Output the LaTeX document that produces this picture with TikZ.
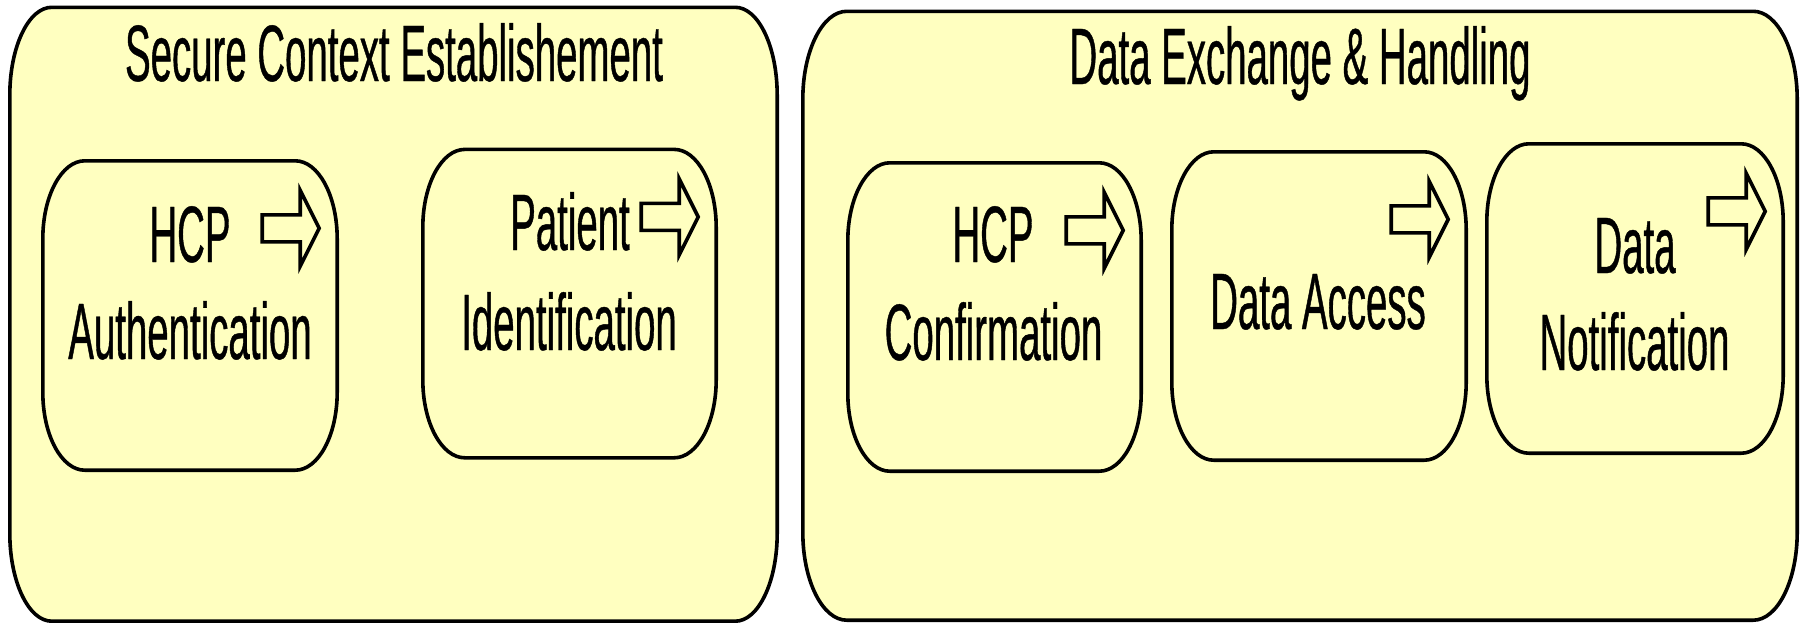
\documentclass[tikz,border=0pt]{standalone}
\usepackage{fontspec}
\newfontfamily\narrowsans[FakeStretch=0.48, FakeBold=0.5]{Liberation Sans}
\usetikzlibrary{calc}
\definecolor{paleyellow}{RGB}{255,255,192}

% oval-cornered outline around a (placeholder) node: #1 node, #2 x radius, #3 y radius
\newcommand\ovaloutline[3]{%
  \draw[outline] let \p1=(#1.south west), \p2=(#1.north east) in
    (\x1+#2,\y1) -- (\x2-#2,\y1)
    arc[start angle=270,end angle=360,x radius=#2,y radius=#3]
    -- (\x2,\y2-#3)
    arc[start angle=0,end angle=90,x radius=#2,y radius=#3]
    -- (\x1+#2,\y2)
    arc[start angle=90,end angle=180,x radius=#2,y radius=#3]
    -- (\x1,\y1+#3)
    arc[start angle=180,end angle=270,x radius=#2,y radius=#3]
    -- cycle;}

% hollow block arrow in the upper right corner of a process box
\newcommand\flowarrow[1]{%
  \draw[arrowicon] (#1.north east) ++(-75,54) -- ++(38,0) -- ++(0,-24.5)
    -- ++(19,38) -- ++(-19,38) -- ++(0,-24.5) -- ++(-38,0) -- cycle;}

\tikzset{
  frame/.style={draw=none, inner sep=0pt},
  outline/.style={draw=black, fill=paleyellow, line width=3.6pt, line join=round},
  arrowicon/.style={draw=black, fill=paleyellow, line width=3.6pt, line join=miter},
  caption/.style={inner sep=0pt, anchor=base, font=\narrowsans\fontsize{80}{96}\selectfont},
}

\begin{document}
\begin{tikzpicture}[x=1pt, y=-1pt]
\useasboundingbox (0,0) rectangle (1803,622);

% group containers
\node[frame, minimum width=767pt, minimum height=613.5pt] (secure) at (393.5,314.25) {};
\node[frame, minimum width=994pt, minimum height=608.5pt] (exchange) at (1300,315.75) {};
\ovaloutline{secure}{42pt}{88pt}
\ovaloutline{exchange}{44pt}{88pt}

% process boxes
\node[frame, minimum width=294pt, minimum height=309pt] (auth) at (190,315.5) {};
\node[frame, minimum width=293pt, minimum height=308pt] (ident) at (569.5,303.6) {};
\node[frame, minimum width=293pt, minimum height=308pt] (confirm) at (994.5,317) {};
\node[frame, minimum width=294pt, minimum height=308pt] (access) at (1319,306) {};
\node[frame, minimum width=296pt, minimum height=309pt] (notify) at (1635,298.5) {};

\foreach \b in {auth,ident,confirm,access,notify}{
  \ovaloutline{\b}{42pt}{78pt}
  \flowarrow{\b}
}

% titles
\node[caption] (secure-title) at (394,81) {Secure Context Establishement};
\node[caption] (exchange-title) at (1300,84) {Data Exchange \& Handling};

% box labels
\node[caption] (auth-l1) at (190,262) {HCP};
\node[caption] (auth-l2) at (190,359) {Authentication};
\node[caption] (ident-l1) at (570,250) {Patient};
\node[caption] (ident-l2) at (569,350) {Identification};
\node[caption] (confirm-l1) at (993,262) {HCP};
\node[caption] (confirm-l2) at (993.5,360) {Confirmation};
\node[caption] (access-l1) at (1318,329) {Data Access};
\node[caption] (notify-l1) at (1635,273) {Data};
\node[caption] (notify-l2) at (1634.5,370) {Notification};
\end{tikzpicture}
\end{document}
